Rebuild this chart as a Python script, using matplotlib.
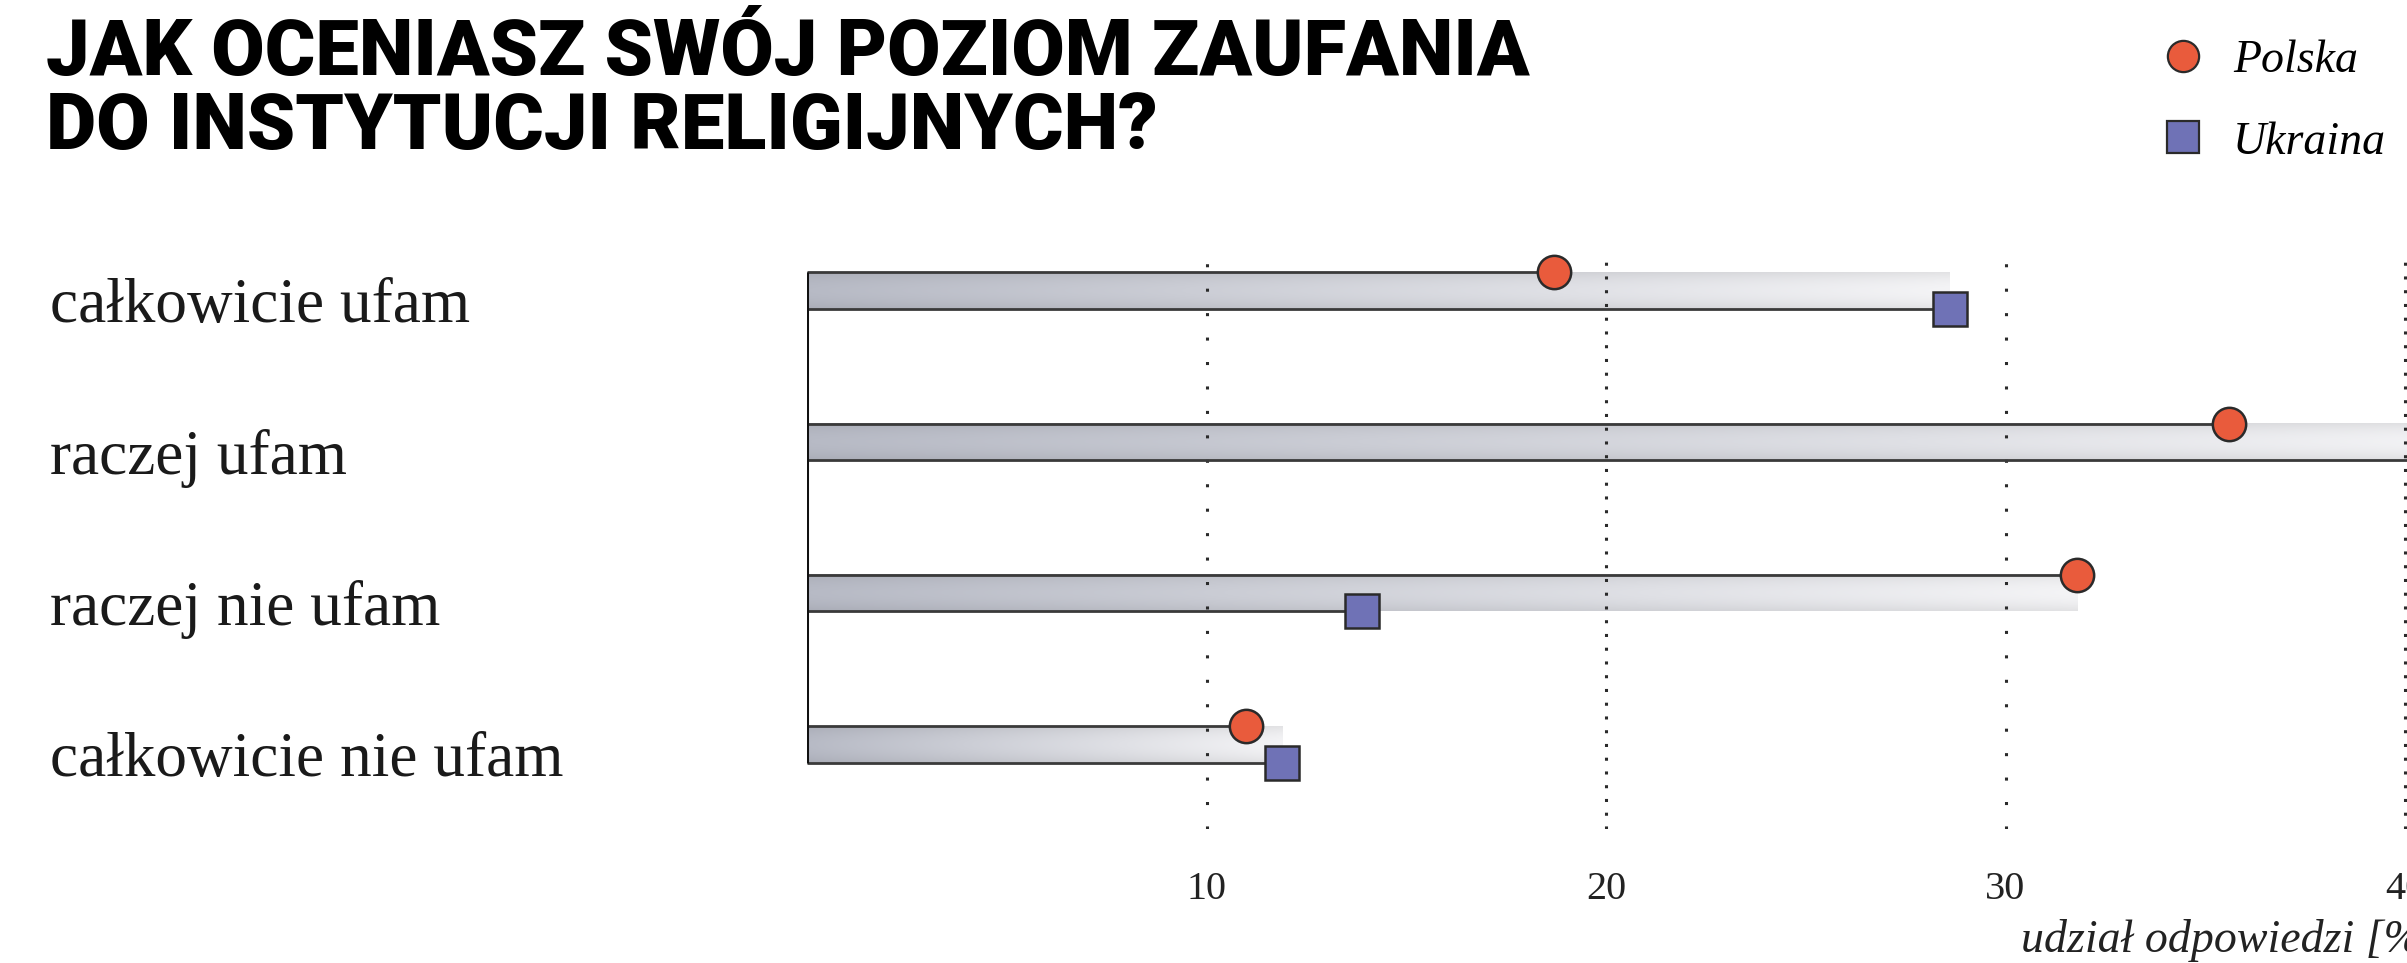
import numpy as np
import matplotlib
matplotlib.use("Agg")
import matplotlib.pyplot as plt
from matplotlib.colors import to_rgb
from matplotlib.lines import Line2D
from matplotlib.transforms import blended_transform_factory

# ============= DATA =============
categories = ["całkowicie ufam", "raczej ufam", "raczej nie ufam", "całkowicie nie ufam"]
polska = [18.7, 35.6, 31.8, 11.0]
ukraina = [28.6, 42.0, 13.9, 11.9]
ticks = [10, 20, 30, 40]
series_names = ["Polska", "Ukraina"]

# ============= STYLE =============
W, H = 2407, 963
serif = ["Liberation Serif", "DejaVu Serif"]
col_pl = "#E95B3C"
col_ua = "#6F72B6"
col_edge = "#2a2a2a"
col_line = "#3a3a3a"
band_left, band_right = np.array(to_rgb("#B7BAC5")), np.array(to_rgb("#F4F4F6"))
half = 0.12  # half height of the gray band (in row units)


def band_image():
    """gray band: light to the right, slightly darker at top/bottom edges"""
    t = np.linspace(0, 1, 256)[None, :, None]
    v = np.linspace(-1, 1, 32)[:, None, None]
    rgb = band_left + (band_right - band_left) * t
    shade = 1 - 0.07 * v ** 2
    return np.clip(rgb * shade, 0, 1)


fig = plt.figure(figsize=(W / 100, H / 100), dpi=100)

# axes: x=0 at 807px, 10 units = 399.5px; rows 151px apart
px_per_unit = 39.95
xmax = 45
ax_left = 807 / W
ax_width = xmax * px_per_unit / W
ax_top_px, ax_bot_px = 253, 829
ax = fig.add_axes([ax_left, 1 - ax_bot_px / H, ax_width, (ax_bot_px - ax_top_px) / H])

row_gap = 151.0
y_top = -(290.5 - ax_top_px) / row_gap
y_bot = 3 + (ax_bot_px - 744.5) / row_gap

img = band_image()
for i, (p, u) in enumerate(zip(polska, ukraina)):
    end = max(p, u)
    ax.imshow(img, aspect="auto", extent=[0, end, i + half, i - half],
              zorder=1, interpolation="bilinear")
    ax.plot([0, p], [i - half, i - half], color=col_line, lw=2.0, zorder=3, solid_capstyle="butt")
    ax.plot([0, u], [i + half, i + half], color=col_line, lw=2.0, zorder=3, solid_capstyle="butt")

ax.plot(polska, np.arange(len(categories)) - half, "o", ms=24, mfc=col_pl, mec=col_edge,
        mew=1.8, ls="none", zorder=5, clip_on=False)
ax.plot(ukraina, np.arange(len(categories)) + half, "s", ms=24, mfc=col_ua, mec=col_edge,
        mew=1.8, ls="none", zorder=5, clip_on=False)

# left axis line
ax.plot([0, 0], [-half, len(categories) - 1 + half], color="#111111", lw=2.2, zorder=4,
        solid_capstyle="butt")

# dotted grid lines, alternating dot density like the original
dot_styles = [(0, (1, 7)), (0, (1, 3.5))]
for k, t in enumerate(ticks):
    ax.axvline(t, color="#2a2a2a", lw=2.2, ls=dot_styles[k % 2], zorder=2)

ax.set_xlim(0, xmax)
ax.set_ylim(y_bot, y_top)
ax.set_xticks(ticks)
ax.set_xticklabels([str(t) for t in ticks], family=serif, fontsize=29, color="#222222")
ax.tick_params(axis="x", length=0, pad=30)
ax.set_yticks([])
for s in ax.spines.values():
    s.set_visible(False)

# category labels
trans = blended_transform_factory(fig.transFigure, ax.transData)
for i, c in enumerate(categories):
    ax.text(50 / W, i + 0.11, c, transform=trans, ha="left", va="center",
            family=serif, fontsize=45.5, color="#1a1a1a")

# title
fig.text(46 / W, 1 - 17 / H, "JAK OCENIASZ SWÓJ POZIOM ZAUFANIA\nDO INSTYTUCJI RELIGIJNYCH?",
         ha="left", va="top", family=["Roboto", "Liberation Sans", "DejaVu Sans"],
         fontweight="black", fontsize=55.8, linespacing=1.0, color="black")

# x label (cut by the right edge as in the original)
fig.text(2021 / W, 1 - 940 / H, "udział odpowiedzi [%]", ha="left", va="center",
         family=serif, style="italic", fontsize=33, color="#222222")

# legend
handles = [
    Line2D([], [], marker="o", ls="none", ms=22.5, mfc=col_pl, mec=col_edge, mew=1.6),
    Line2D([], [], marker="s", ls="none", ms=23, mfc=col_ua, mec=col_edge, mew=1.6),
]
fs_leg = 33
em = fs_leg * 100 / 72
fig.legend(handles, series_names, loc="upper left",
           bbox_to_anchor=((2183 - em / 2) / W, 1 - 40 / H),
           frameon=False, handlelength=1.0, handletextpad=(2233 - 2183 - em / 2) / em,
           labelspacing=0.84, borderpad=0, borderaxespad=0,
           prop={"family": serif, "style": "italic", "size": fs_leg})

fig.savefig("out.png", dpi=100, facecolor="white")
